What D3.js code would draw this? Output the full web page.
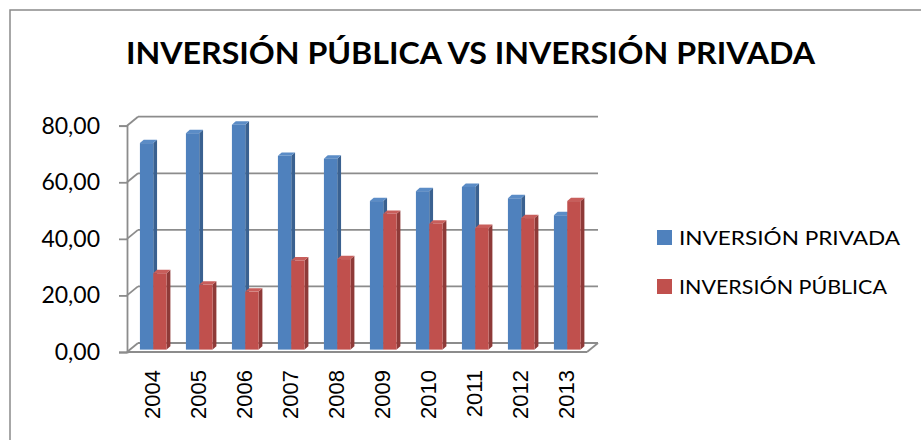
<!DOCTYPE html>
<html>
<head>
<meta charset="utf-8">
<script src="https://cdn.jsdelivr.net/npm/d3@7"></script>
<style>
  body { margin: 0; background: #fff; }
  svg { display: block; }
</style>
</head>
<body>
<div id="chart"></div>
<script>
"use strict";

// Data
const years = ["2004", "2005", "2006", "2007", "2008", "2009", "2010", "2011", "2012", "2013"];
const seriesNames = ["INVERSIÓN PRIVADA", "INVERSIÓN PÚBLICA"];
const privada = [73, 76.5, 79.5, 68.5, 67.5, 52.5, 56, 57.5, 53.5, 47.5];
const publica = [27, 23, 20.5, 31.5, 32, 48, 44.5, 43, 46.5, 52.5];
const yTicks = [0, 20, 40, 60, 80];

const colors = ["#4F81BD", "#C0504D"];
const sideColors = ["#3A6190", "#8E3A38"];
const topColors = ["#5B8CC6", "#C85E5B"];

const W = 921, H = 440;
const gridColor = "#8C8C8C";

const svg = d3.select("#chart").append("svg")
  .attr("width", W)
  .attr("height", H);

// Outer chart border (runs off the right and bottom)
svg.append("rect")
  .attr("x", 10).attr("y", 10)
  .attr("width", W).attr("height", H)
  .attr("fill", "white")
  .attr("stroke", "#8A8A8A")
  .attr("stroke-width", 1.5);

// Title
svg.append("text")
  .attr("x", 126).attr("y", 64)
  .attr("font-family", "Lato, 'Open Sans', sans-serif")
  .attr("font-weight", "bold")
  .attr("font-size", 30)
  .attr("textLength", 689)
  .attr("lengthAdjust", "spacingAndGlyphs")
  .attr("fill", "#000")
  .text("INVERSIÓN PÚBLICA VS INVERSIÓN PRIVADA");

// 3D depth of the plot box
const depth = { dx: 11, dy: -9 };

const x0 = d3.scaleBand().domain(years).range([127, 587]);
const x1 = d3.scaleBand().domain(seriesNames)
  .range([x0.bandwidth() * 0.22, x0.bandwidth() * 0.8]);
const y = d3.scaleLinear().domain([0, 80]).range([352, 125.7]);

const g = svg.append("g");

// Back wall gridlines + left wall diagonals
yTicks.forEach(t => {
  g.append("line")
    .attr("x1", x0.range()[0] + depth.dx).attr("y1", y(t) + depth.dy)
    .attr("x2", x0.range()[1] + depth.dx).attr("y2", y(t) + depth.dy)
    .attr("stroke", gridColor).attr("stroke-width", 1.8);
  g.append("line")
    .attr("x1", x0.range()[0]).attr("y1", y(t))
    .attr("x2", x0.range()[0] + depth.dx).attr("y2", y(t) + depth.dy)
    .attr("stroke", gridColor).attr("stroke-width", 1.8);
});

// Floor front edge and right diagonal
g.append("line")
  .attr("x1", x0.range()[0]).attr("y1", y(0))
  .attr("x2", x0.range()[1]).attr("y2", y(0))
  .attr("stroke", gridColor).attr("stroke-width", 1.8);
g.append("line")
  .attr("x1", x0.range()[1]).attr("y1", y(0))
  .attr("x2", x0.range()[1] + depth.dx).attr("y2", y(0) + depth.dy)
  .attr("stroke", gridColor).attr("stroke-width", 1.8);

// Y axis
const yAxis = d3.axisLeft(y)
  .tickValues(yTicks)
  .tickSize(8)
  .tickPadding(19)
  .tickFormat(d => d3.format(".2f")(d).replace(".", ","));

const axisG = svg.append("g")
  .attr("transform", "translate(" + x0.range()[0] + ",0)")
  .call(yAxis);
axisG.select(".domain").attr("stroke", gridColor).attr("stroke-width", 1.8);
axisG.selectAll(".tick line").attr("stroke", gridColor).attr("stroke-width", 1.8);
axisG.selectAll(".tick text")
  .attr("font-family", "Lato, 'Open Sans', sans-serif")
  .attr("font-size", 23)
  .attr("fill", "#000");

// Bars (front face shifted into the box, with side and top faces)
const barOff = { dx: 2.8, dy: -2.4 };
const barDepth = { dx: 3.8, dy: -3.4 };
const values = [privada, publica];

const rows = [];
years.forEach((yr, i) => {
  seriesNames.forEach((s, k) => {
    rows.push({ year: yr, series: s, k: k, value: values[k][i] });
  });
});

const bars = svg.append("g").selectAll("g.bar")
  .data(rows)
  .join("g")
  .attr("class", "bar");

bars.each(function (d) {
  const el = d3.select(this);
  const xl = x0(d.year) + x1(d.series) + barOff.dx;
  const w = x1.bandwidth();
  const yt = y(d.value) + barOff.dy;
  const yb = y(0) + barOff.dy;
  // side face
  el.append("polygon")
    .attr("points", [
      [xl + w, yt], [xl + w + barDepth.dx, yt + barDepth.dy],
      [xl + w + barDepth.dx, yb + barDepth.dy], [xl + w, yb]
    ].map(p => p.join(",")).join(" "))
    .attr("fill", sideColors[d.k]);
  // top face
  el.append("polygon")
    .attr("points", [
      [xl, yt], [xl + barDepth.dx, yt + barDepth.dy],
      [xl + w + barDepth.dx, yt + barDepth.dy], [xl + w, yt]
    ].map(p => p.join(",")).join(" "))
    .attr("fill", topColors[d.k]);
  // front face
  el.append("rect")
    .attr("x", xl).attr("y", yt)
    .attr("width", w).attr("height", yb - yt)
    .attr("fill", colors[d.k]);
});

// X labels, rotated
svg.append("g").selectAll("text")
  .data(years)
  .join("text")
  .attr("transform", d => "translate(" + (x0(d) + x0.bandwidth() / 2 + 2) + ",370) rotate(-90)")
  .attr("text-anchor", "end")
  .attr("dy", "0.35em")
  .attr("font-family", "'Liberation Sans', Arial, sans-serif")
  .attr("font-size", 22)
  .attr("fill", "#000")
  .text(d => d);

// Legend
const legend = svg.append("g").selectAll("g")
  .data(seriesNames)
  .join("g")
  .attr("transform", (d, i) => "translate(657," + (230 + i * 49) + ")");

legend.append("rect")
  .attr("width", 15).attr("height", 15)
  .attr("fill", (d, i) => colors[i]);

legend.append("text")
  .attr("x", 22).attr("y", 15)
  .attr("font-family", "Lato, 'Open Sans', sans-serif")
  .attr("font-size", 20)
  .attr("textLength", (d, i) => i === 0 ? 221 : 208)
  .attr("lengthAdjust", "spacingAndGlyphs")
  .attr("fill", "#000")
  .text(d => d);
</script>
</body>
</html>
